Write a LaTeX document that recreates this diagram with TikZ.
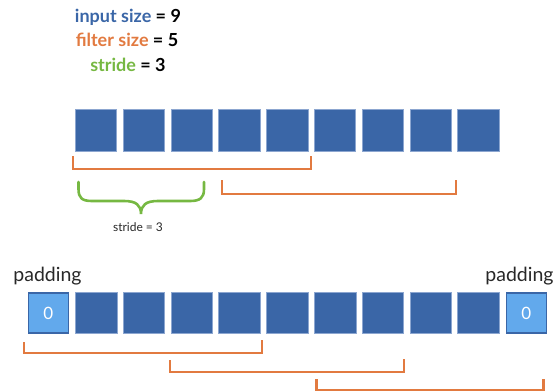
\documentclass[tikz,border=0pt]{standalone}
\usepackage{fontspec}
\setmainfont{Lato}
\definecolor{cellblue}{RGB}{58,102,167}
\definecolor{celledge}{RGB}{140,166,208}
\definecolor{padblue}{RGB}{98,169,236}
\definecolor{filterorange}{RGB}{226,122,64}
\definecolor{stridegreen}{RGB}{118,184,66}
\definecolor{labelgray}{RGB}{40,40,40}
\begin{document}
\begin{tikzpicture}[x=1pt,y=-1pt,
  cell/.style={draw=celledge,line width=0.7pt,fill=cellblue,minimum size=41.5pt,inner sep=0pt},
  padcell/.style={draw=cellblue,line width=1.6pt,fill=padblue,minimum size=40pt,inner sep=0pt,
    text=white,font=\fontsize{17}{19}\selectfont},
  window/.style={draw=filterorange,line width=2.2pt},
  headline/.style={anchor=base,font=\bfseries\fontsize{18}{20}\selectfont},
  padlabel/.style={anchor=base,text=labelgray,font=\fontsize{19.5}{22}\selectfont}]
\useasboundingbox (0,0) rectangle (555,391);

% parameter summary
\node[headline] (insize) at (128,22.5) {\textcolor{cellblue}{input size} = 9};
\node[headline] (fsize) at (127,46.5) {\textcolor{filterorange}{filter size} = 5};
\node[headline] (stride) at (128,71.5) {\textcolor{stridegreen}{stride} = 3};

% input without padding
\foreach \i in {0,...,8}
  \node[cell] (t\i) at (96+\i*47.8,130.5) {};

% filter windows over the plain input
\draw[window] (73,156) -- (73,169) -- (311,169) -- (311,156);
\draw[window] (222,180) -- (222,194) -- (456,194) -- (456,180);

% stride brace
\draw[stridegreen,line width=2.6pt,line cap=round]
  (78.5,182) -- (78.5,189) .. controls (78.5,198) and (82,201) .. (92,201)
  -- (124,201) .. controls (136,201) and (141,205) .. (141,214)
  .. controls (141,205) and (146,201) .. (158,201)
  -- (190,201) .. controls (200,201) and (204,198) .. (204,189) -- (204,182);
\node[anchor=base,text=labelgray,font=\fontsize{12}{14}\selectfont] (stridelbl) at (138,231) {stride = 3};

% padded input
\node[padcell] (b0) at (48.3,313) {0};
\foreach \i in {1,...,9}
  \node[cell] (b\i) at (48.3+\i*47.8,313) {};
\node[padcell] (b10) at (48.3+10*47.8,313) {0};

\node[padlabel] (padl) at (47.5,281) {padding};
\node[padlabel] (padr) at (519.5,281) {padding};

% filter windows over the padded input
\draw[window] (24,342) -- (24,353) -- (262,353) -- (262,340);
\draw[window] (170,360) -- (170,372) -- (404,372) -- (404,359);
\draw[window] (316.5,379) -- (316.5,390) -- (543.5,390) -- (543.5,379);
\end{tikzpicture}
\end{document}
